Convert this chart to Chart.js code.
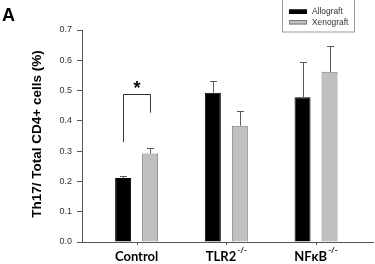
<!DOCTYPE html>
<html>
<head>
<meta charset="utf-8">
<script src="https://cdn.jsdelivr.net/npm/chart.js@4/dist/chart.umd.min.js"></script>
<style>
  html, body { margin: 0; padding: 0; background: #fff; }
  #wrap { width: 375px; height: 264px; position: relative; }
</style>
</head>
<body>
<div id="wrap"><canvas id="chart"></canvas></div>
<script>
const categories = ['Control', 'TLR2', 'NF\u03BAB'];
const superscripts = ['', '-/-', '-/-'];
const allograft = [0.211, 0.493, 0.478];
const allograftErr = [0.008, 0.037, 0.115];
const xenograft = [0.292, 0.384, 0.562];
const xenograftErr = [0.020, 0.048, 0.086];
const yTicks = [0, 0.1, 0.2, 0.3, 0.4, 0.5, 0.6, 0.7];

const toPoints = vals => vals.map((v, i) => ({ x: i + 1, y: v }));

// error bars (upper only, with cap)
const errorBars = {
    id: 'errorBars',
    afterDatasetsDraw(chart) {
        const ctx = chart.ctx;
        const y = chart.scales.y;
        ctx.save();
        ctx.strokeStyle = '#5a5a5a';
        ctx.lineWidth = 1;
        chart.data.datasets.forEach((ds, di) => {
            const meta = chart.getDatasetMeta(di);
            meta.data.forEach((bar, i) => {
                const top = y.getPixelForValue(ds.data[i].y + ds.errors[i]);
                const x = Math.round(bar.x) + 0.5;
                ctx.beginPath();
                ctx.moveTo(x, bar.y);
                ctx.lineTo(x, Math.round(top) + 0.5);
                ctx.moveTo(x - 3.5, Math.round(top) + 0.5);
                ctx.lineTo(x + 3.5, Math.round(top) + 0.5);
                ctx.stroke();
            });
        });
        ctx.restore();
    }
};

// texts, legend, significance bracket, x tick marks
const decorations = {
    id: 'decorations',
    afterDraw(chart) {
        const ctx = chart.ctx;
        const xs = chart.scales.x;
        const ys = chart.scales.y;
        ctx.save();

        // panel letter
        ctx.fillStyle = '#000';
        ctx.font = 'bold 18px "Liberation Sans", Arial, sans-serif';
        ctx.textBaseline = 'alphabetic';
        ctx.textAlign = 'left';
        ctx.fillText('A', 2, 21);

        // y title
        ctx.save();
        ctx.translate(37, 134);
        ctx.rotate(-Math.PI / 2);
        ctx.textAlign = 'center';
        ctx.textBaseline = 'middle';
        ctx.font = 'bold 13.5px "Liberation Sans", Arial, sans-serif';
        ctx.fillText('Th17/ Total CD4+ cells (%)', 0, 0);
        ctx.restore();

        // x tick marks
        ctx.strokeStyle = '#555';
        ctx.lineWidth = 1;
        categories.forEach((c, i) => {
            const tx = Math.round(xs.getPixelForValue(i + 1)) + 0.5;
            ctx.beginPath();
            ctx.moveTo(tx, xs.top);
            ctx.lineTo(tx, xs.top + 3);
            ctx.stroke();
        });

        // category labels with superscripts
        ctx.fillStyle = '#000';
        categories.forEach((c, i) => {
            const cx = xs.getPixelForValue(i + 1);
            ctx.font = 'bold 13px Lato, "Open Sans", sans-serif';
            const w = ctx.measureText(c).width;
            ctx.font = 'bold 8px Lato, "Open Sans", sans-serif';
            const sw = superscripts[i] ? ctx.measureText(superscripts[i]).width + 1 : 0;
            const start = cx - (w + sw) / 2;
            ctx.textAlign = 'left';
            ctx.textBaseline = 'alphabetic';
            ctx.font = 'bold 13px Lato, "Open Sans", sans-serif';
            ctx.fillText(c, start, 261);
            if (superscripts[i]) {
                ctx.font = 'bold 8px Lato, "Open Sans", sans-serif';
                ctx.fillText(superscripts[i], start + w + 1, 253);
            }
        });

        // significance bracket over Control
        const m0 = chart.getDatasetMeta(0).data[0];
        const m1 = chart.getDatasetMeta(1).data[0];
        const lx = Math.round(m0.x) + 0.5;
        const rx = Math.round(m1.x) + 0.5;
        const hy = Math.round(ys.getPixelForValue(0.489)) + 0.5;
        ctx.strokeStyle = '#333';
        ctx.beginPath();
        ctx.moveTo(lx, ys.getPixelForValue(0.33));
        ctx.lineTo(lx, hy);
        ctx.lineTo(rx, hy);
        ctx.lineTo(rx, ys.getPixelForValue(0.427));
        ctx.stroke();
        ctx.font = 'bold 18px "Liberation Sans", Arial, sans-serif';
        ctx.textAlign = 'center';
        ctx.textBaseline = 'alphabetic';
        ctx.fillText('*', (lx + rx) / 2, 94);

        // legend box
        ctx.strokeStyle = '#999';
        ctx.strokeRect(282.5, -0.5, 72, 32.5);
        chart.data.datasets.forEach((ds, i) => {
            const yy = 9.5 + i * 10.5;
            ctx.fillStyle = ds.backgroundColor;
            ctx.fillRect(289, yy, 18, 4.5);
            ctx.strokeStyle = ds.borderColor;
            ctx.strokeRect(289.5, yy + 0.5, 17, 3.5);
            ctx.fillStyle = '#333';
            ctx.font = '8.4px "Liberation Sans", Arial, sans-serif';
            ctx.textAlign = 'left';
            ctx.textBaseline = 'middle';
            ctx.fillText(ds.label, 312, yy + 2.5);
        });

        ctx.restore();
    }
};

new Chart(document.getElementById('chart'), {
    type: 'bar',
    data: {
        datasets: [
            {
                label: 'Allograft',
                data: toPoints(allograft),
                errors: allograftErr,
                backgroundColor: '#000000',
                borderColor: '#000000',
                borderWidth: 1
            },
            {
                label: 'Xenograft',
                data: toPoints(xenograft),
                errors: xenograftErr,
                backgroundColor: '#c0c0c0',
                borderColor: '#7a7a7a',
                borderWidth: 1
            }
        ]
    },
    options: {
        responsive: true,
        maintainAspectRatio: false,
        animation: false,
        categoryPercentage: 0.602,
        barPercentage: 0.593,
        layout: { padding: { top: 30, right: 2, left: 0, bottom: 0 } },
        plugins: {
            legend: { display: false },
            tooltip: { enabled: false }
        },
        scales: {
            x: {
                type: 'linear',
                offset: false,
                min: 0.391,
                max: 3.635,
                afterBuildTicks: s => { s.ticks = categories.map((_, i) => ({ value: i + 1 })); },
                afterFit: s => { s.height = 22; },
                grid: { display: false },
                border: { display: true, color: '#555', width: 1 },
                ticks: { display: false }
            },
            y: {
                min: 0,
                max: 0.7,
                afterBuildTicks: s => { s.ticks = yTicks.map(v => ({ value: v })); },
                afterFit: s => { s.width = 82; },
                grid: { display: true, drawOnChartArea: false, drawTicks: true, tickLength: 5, color: '#555' },
                border: { display: true, color: '#555', width: 1 },
                ticks: {
                    padding: 5,
                    color: '#333',
                    font: { family: '"Liberation Sans", Arial, sans-serif', size: 9 },
                    callback: v => v.toFixed(1)
                }
            }
        }
    },
    plugins: [errorBars, decorations]
});
</script>
</body>
</html>
